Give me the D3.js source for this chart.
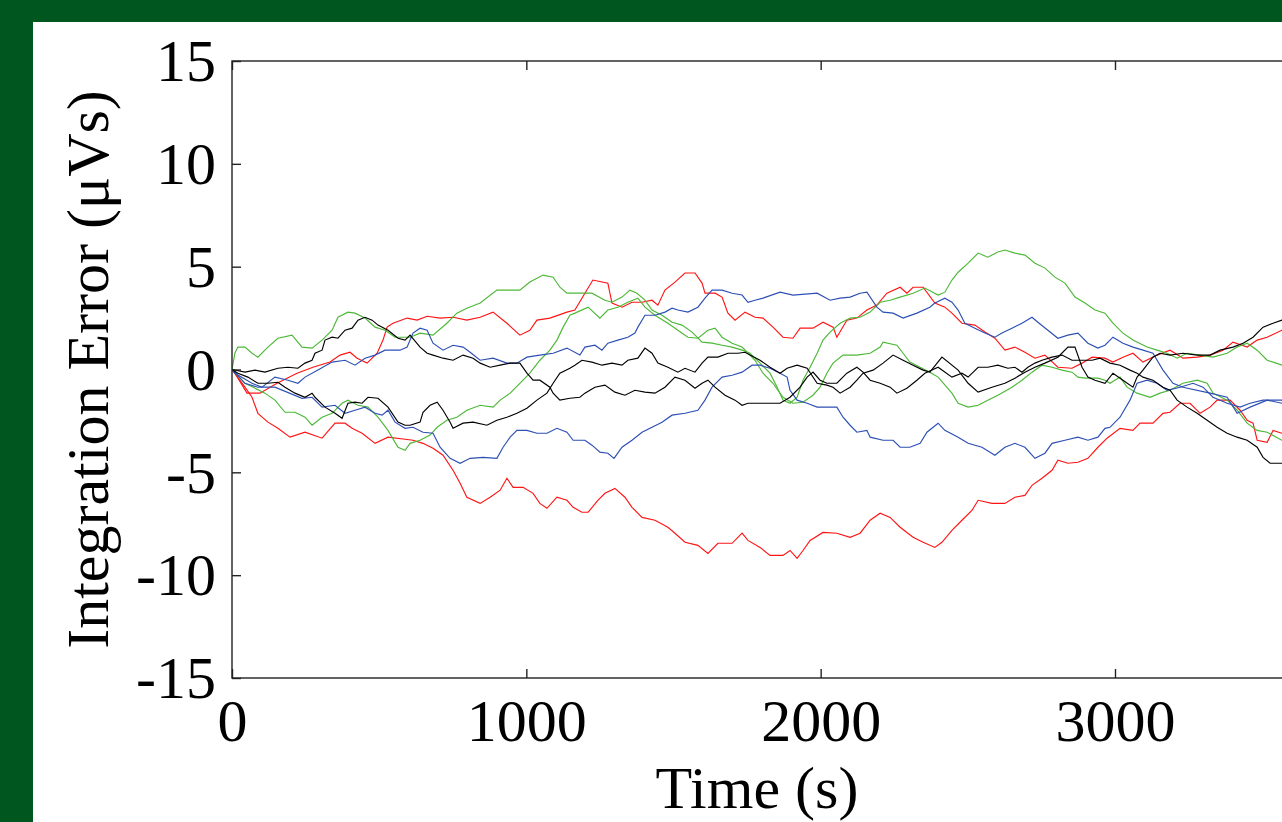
<!DOCTYPE html>
<html>
<head>
<meta charset="utf-8">
<script src="https://cdn.jsdelivr.net/npm/d3@7"></script>
<style>
  html, body { margin: 0; padding: 0; background: #00561f; overflow: hidden; }
  svg { display: block; }
</style>
</head>
<body>
<svg id="chart" width="1282" height="822"></svg>
<script>
// Integration error of eight runs over one hour, [time (s), error (µVs)]
const redLower = [[0,0],[44,-0.86],[68,-1.35],[88,-2.13],[122,-2.56],[156,-2.86],[197,-3.29],[248,-3.05],[306,-3.34],[350,-2.61],[384,-2.61],[408,-2.86],[442,-3.10],[486,-3.59],[530,-3.29],[588,-3.39],[615,-3.44],[649,-3.59],[683,-3.83],[717,-4.17],[751,-4.90],[775,-5.53],[798,-6.21],[843,-6.51],[877,-6.21],[911,-5.87],[934,-5.29],[955,-5.73],[989,-5.73],[1023,-6.02],[1046,-6.51],[1070,-6.75],[1104,-6.21],[1138,-6.36],[1159,-6.70],[1189,-6.94],[1210,-6.94],[1243,-6.36],[1267,-6.02],[1301,-5.78],[1335,-6.21],[1359,-6.70],[1393,-7.19],[1437,-7.33],[1481,-7.67],[1505,-7.96],[1539,-8.40],[1583,-8.55],[1617,-8.94],[1651,-8.45],[1699,-8.45],[1733,-7.96],[1753,-8.31],[1794,-8.65],[1828,-9.04],[1872,-9.04],[1896,-8.80],[1920,-9.18],[1940,-8.80],[1964,-8.31],[2008,-7.92],[2055,-7.96],[2100,-8.16],[2134,-7.96],[2168,-7.33],[2202,-6.99],[2236,-7.19],[2270,-7.67],[2314,-8.16],[2348,-8.40],[2388,-8.65],[2412,-8.40],[2446,-7.82],[2480,-7.33],[2514,-6.85],[2535,-6.36],[2582,-6.51],[2626,-6.51],[2660,-6.21],[2694,-6.12],[2718,-5.63],[2752,-5.29],[2786,-4.90],[2806,-4.41],[2840,-4.56],[2874,-4.51],[2908,-4.32],[2942,-3.78],[2973,-3.34],[3017,-2.86],[3061,-2.96],[3085,-2.61],[3129,-2.61],[3163,-2.13],[3187,-2.08],[3221,-1.64],[3255,-1.64],[3289,-2.13],[3323,-1.83],[3347,-1.49],[3391,-1.49],[3425,-1.98],[3449,-2.47],[3469,-2.61],[3483,-3.44],[3517,-3.54],[3537,-2.96],[3567,-3.10],[3600,-3.20]];

const redUpper = [[0,0],[10,-0.18],[51,-1.15],[95,-1.15],[153,-0.67],[221,-0.18],[275,0.11],[333,0.36],[367,0.70],[401,0.84],[425,0.55],[459,0.31],[493,0.79],[513,1.43],[527,2.06],[547,2.25],[595,2.50],[629,2.40],[663,2.59],[707,2.50],[751,2.54],[798,2.40],[843,2.54],[887,2.79],[934,2.25],[978,1.67],[1012,1.91],[1036,2.40],[1080,2.50],[1138,2.79],[1165,2.89],[1199,3.71],[1226,4.35],[1277,4.20],[1291,3.23],[1325,3.03],[1359,3.27],[1393,3.27],[1427,3.37],[1447,3.13],[1471,3.86],[1505,4.25],[1539,4.69],[1573,4.69],[1597,4.20],[1607,3.71],[1641,3.71],[1665,3.52],[1685,2.74],[1709,2.40],[1743,2.79],[1777,2.54],[1804,2.50],[1838,2.06],[1872,1.57],[1906,1.52],[1930,2.01],[1974,2.01],[2008,2.30],[2042,2.06],[2055,1.57],[2089,2.40],[2123,2.50],[2157,2.89],[2191,3.13],[2225,3.71],[2270,4.00],[2293,3.71],[2314,4.00],[2348,4.00],[2388,3.23],[2422,3.03],[2446,2.74],[2480,2.25],[2524,2.16],[2558,1.82],[2592,1.52],[2626,0.94],[2660,1.09],[2694,0.84],[2728,0.55],[2762,0.70],[2806,0.11],[2854,0.06],[2888,0.31],[2922,0.60],[2966,0.55],[2993,0.36],[3027,0.60],[3061,0.79],[3095,0.36],[3143,0.70],[3187,0.94],[3231,0.55],[3279,0.60],[3323,0.70],[3367,0.94],[3401,1.33],[3449,1.09],[3483,1.43],[3517,1.57],[3567,1.91],[3600,2.00]];

const blueLower = [[0,0],[44,-0.67],[88,-0.86],[146,-0.86],[238,-1.40],[272,-1.35],[306,-1.83],[350,-1.74],[384,-2.13],[418,-1.98],[452,-1.83],[486,-2.13],[510,-2.22],[530,-1.98],[554,-2.56],[588,-2.86],[615,-2.81],[649,-3.05],[683,-3.10],[707,-3.78],[741,-4.32],[775,-4.56],[809,-4.32],[853,-4.27],[900,-4.32],[921,-3.78],[945,-3.29],[968,-2.96],[1002,-2.96],[1036,-3.10],[1070,-3.10],[1104,-2.86],[1138,-3.05],[1159,-3.44],[1199,-3.44],[1223,-3.68],[1250,-4.02],[1277,-4.07],[1298,-4.32],[1325,-3.78],[1359,-3.44],[1393,-3.05],[1427,-2.81],[1461,-2.56],[1495,-2.22],[1539,-2.13],[1583,-1.98],[1607,-1.49],[1631,-0.86],[1665,-0.37],[1699,-0.28],[1733,-0.13],[1767,0.21],[1794,0.21],[1828,0.06],[1862,-0.18],[1886,-0.37],[1896,-1.01],[1920,-1.49],[1954,-1.64],[1988,-1.83],[2055,-1.83],[2076,-2.32],[2100,-2.71],[2123,-3.05],[2157,-2.96],[2168,-3.29],[2212,-3.44],[2246,-3.44],[2270,-3.78],[2303,-3.78],[2338,-3.59],[2361,-3.05],[2399,-2.61],[2422,-2.96],[2467,-3.29],[2501,-3.59],[2548,-3.78],[2592,-4.17],[2626,-3.78],[2660,-3.59],[2694,-3.78],[2728,-4.32],[2762,-4.07],[2786,-3.59],[2830,-3.44],[2874,-3.29],[2908,-3.44],[2942,-3.29],[2966,-2.86],[2983,-2.81],[3017,-2.32],[3051,-1.49],[3075,-0.67],[3109,-0.52],[3143,-0.67],[3177,-1.01],[3221,-0.86],[3265,-0.67],[3299,-0.86],[3333,-1.35],[3381,-1.64],[3425,-1.83],[3459,-1.64],[3503,-1.49],[3567,-1.49],[3600,-1.50]];

const blueUpper = [[0,0],[10,-0.18],[68,-0.67],[102,-0.86],[146,-0.37],[190,-0.52],[224,-0.67],[248,-0.37],[292,-0.03],[340,0.36],[384,0.45],[418,0.21],[452,0.55],[486,0.70],[520,0.94],[571,0.94],[595,1.09],[615,1.77],[639,2.01],[663,1.91],[683,1.28],[717,0.94],[751,1.18],[785,1.09],[809,0.84],[843,0.45],[887,0.55],[934,0.31],[968,0.31],[1002,0.60],[1046,0.70],[1091,0.79],[1138,1.04],[1182,0.70],[1199,1.09],[1233,1.18],[1257,0.94],[1277,1.28],[1311,1.43],[1345,1.57],[1369,1.77],[1379,2.06],[1403,2.64],[1437,2.64],[1471,2.79],[1495,2.98],[1515,2.89],[1549,2.79],[1583,3.03],[1607,3.47],[1631,3.86],[1665,3.86],[1699,3.71],[1733,3.62],[1753,3.27],[1777,3.37],[1804,3.47],[1862,3.76],[1906,3.62],[1988,3.71],[2032,3.37],[2066,3.47],[2100,3.52],[2134,3.71],[2157,3.76],[2191,3.03],[2212,2.79],[2246,2.74],[2280,2.50],[2327,2.74],[2371,3.03],[2388,3.23],[2422,3.47],[2446,3.27],[2467,2.89],[2490,2.25],[2524,2.01],[2558,1.77],[2592,1.57],[2616,1.77],[2650,2.01],[2684,2.25],[2718,2.54],[2738,2.30],[2772,1.91],[2806,1.52],[2840,1.67],[2874,1.77],[2908,1.28],[2942,1.04],[2966,1.18],[2993,1.57],[3027,1.28],[3061,1.09],[3095,0.94],[3129,0.79],[3163,-0.03],[3197,-0.67],[3231,-0.86],[3323,-1.15],[3381,-1.35],[3415,-2.13],[3459,-1.83],[3517,-1.49],[3567,-1.64],[3600,-1.60]];

const greenUpper = [[0,0],[10,0.80],[20,1.09],[44,1.09],[68,0.79],[88,0.60],[122,1.09],[156,1.52],[204,1.67],[238,1.09],[272,1.04],[306,1.43],[340,1.91],[360,2.54],[394,2.79],[418,2.74],[452,2.50],[486,2.06],[520,1.91],[554,1.57],[605,1.57],[639,1.77],[683,1.67],[730,2.25],[764,2.74],[798,2.98],[843,3.23],[900,3.86],[945,3.86],[978,3.86],[1012,4.25],[1057,4.59],[1091,4.49],[1114,4.00],[1138,3.71],[1165,3.71],[1223,3.71],[1267,3.37],[1291,3.27],[1325,3.52],[1352,3.86],[1376,3.71],[1403,3.37],[1427,2.89],[1461,2.64],[1495,2.30],[1529,2.16],[1563,1.82],[1597,1.33],[1631,1.28],[1665,1.18],[1699,1.09],[1733,0.94],[1760,0.79],[1794,0.31],[1828,-0.18],[1852,-0.86],[1872,-1.49],[1896,-1.64],[1920,-1.35],[1940,-0.52],[1964,0.11],[1988,0.79],[2008,1.43],[2032,1.82],[2066,2.25],[2100,2.50],[2134,2.54],[2168,2.79],[2202,3.27],[2236,3.37],[2270,3.52],[2314,3.71],[2354,3.96],[2399,3.62],[2422,3.76],[2446,4.35],[2467,4.73],[2501,5.17],[2535,5.66],[2568,5.46],[2602,5.71],[2626,5.81],[2660,5.66],[2694,5.56],[2728,5.17],[2762,4.93],[2796,4.49],[2830,4.20],[2864,3.52],[2898,3.23],[2932,2.89],[2966,2.74],[2993,2.25],[3027,1.77],[3061,1.43],[3109,1.09],[3143,0.94],[3177,0.79],[3211,0.55],[3245,0.79],[3289,0.70],[3333,0.60],[3381,0.79],[3415,1.09],[3449,1.28],[3483,0.94],[3517,0.45],[3567,0.21],[3600,0.10]];

const greenLower = [[0,0],[44,-0.67],[112,-1.15],[146,-1.49],[180,-2.08],[214,-2.08],[248,-2.32],[272,-2.71],[306,-2.32],[340,-2.13],[374,-1.64],[394,-1.49],[428,-1.74],[462,-1.83],[496,-2.32],[530,-2.96],[564,-3.78],[588,-3.93],[605,-3.59],[639,-3.44],[673,-3.19],[697,-2.81],[730,-2.47],[764,-2.32],[798,-1.98],[843,-1.74],[887,-1.83],[911,-1.49],[945,-1.15],[978,-0.67],[1012,-0.18],[1046,0.45],[1080,0.94],[1104,1.43],[1125,2.06],[1148,2.64],[1165,2.74],[1210,3.03],[1250,2.50],[1277,2.89],[1311,3.03],[1345,3.27],[1379,3.47],[1403,3.03],[1437,2.64],[1481,2.25],[1515,1.91],[1549,1.57],[1583,1.52],[1617,1.91],[1641,2.01],[1665,1.57],[1699,1.28],[1733,1.09],[1777,0.45],[1804,-0.18],[1838,-0.67],[1872,-1.35],[1906,-1.64],[1940,-1.59],[1974,-1.25],[1998,-0.86],[2021,-0.18],[2042,0.31],[2076,0.70],[2123,0.70],[2168,0.79],[2202,1.09],[2212,1.33],[2259,1.18],[2280,0.79],[2303,0.36],[2338,0.11],[2371,-0.13],[2399,-0.37],[2446,-1.15],[2467,-1.64],[2501,-1.83],[2535,-1.74],[2568,-1.49],[2602,-1.25],[2650,-0.86],[2684,-0.52],[2718,-0.13],[2752,0.21],[2786,0.11],[2820,-0.03],[2854,-0.13],[2874,-0.37],[2898,-0.42],[2942,-0.42],[2966,-0.52],[2983,-0.67],[3017,-0.37],[3041,-0.86],[3075,-1.15],[3119,-1.35],[3153,-1.15],[3187,-1.01],[3231,-0.67],[3279,-0.52],[3313,-0.67],[3333,-1.15],[3381,-1.49],[3415,-1.98],[3449,-2.61],[3483,-2.96],[3517,-3.05],[3567,-3.44],[3600,-3.50]];

const blackA = [[0,0],[44,-0.13],[78,-0.03],[112,-0.13],[156,0.06],[190,0.11],[224,0.06],[248,0.31],[272,0.45],[282,0.79],[306,0.94],[316,1.43],[340,1.57],[360,1.52],[384,1.91],[408,2.01],[428,2.40],[452,2.54],[476,2.40],[496,2.16],[530,1.91],[564,1.52],[588,1.43],[605,1.67],[639,1.09],[663,0.79],[683,0.70],[717,0.55],[751,0.45],[785,0.70],[819,0.55],[843,0.31],[877,0.11],[911,0.21],[945,0.31],[978,0.31],[1002,-0.18],[1023,-0.52],[1046,-0.52],[1080,-0.86],[1091,-1.15],[1114,-1.49],[1148,-1.40],[1182,-1.35],[1199,-1.15],[1233,-0.86],[1267,-0.76],[1301,-1.10],[1335,-1.25],[1369,-1.01],[1403,-1.10],[1437,-1.15],[1471,-0.86],[1505,-0.37],[1539,-0.52],[1573,-0.91],[1597,-0.67],[1617,-0.52],[1641,-0.86],[1675,-1.25],[1709,-1.49],[1733,-1.74],[1753,-1.64],[1794,-1.64],[1828,-1.64],[1862,-1.64],[1896,-1.35],[1930,-0.86],[1954,-0.37],[1974,-0.13],[1998,-0.52],[2021,-0.67],[2055,-0.67],[2089,-0.18],[2123,0.11],[2144,-0.13],[2168,-0.52],[2202,-0.67],[2236,-0.86],[2259,-1.15],[2293,-0.91],[2327,-0.52],[2354,-0.18],[2399,0.11],[2446,-0.37],[2480,-0.18],[2501,-0.37],[2535,0.11],[2568,0.11],[2602,0.21],[2636,0.06],[2660,0.11],[2684,-0.13],[2704,0.11],[2728,0.31],[2752,0.45],[2786,0.60],[2820,0.70],[2854,0.45],[2888,0.45],[2922,0.45],[2949,0.55],[2983,0.31],[3017,0.21],[3051,-0.03],[3075,-0.18],[3095,-0.37],[3129,-0.52],[3163,-0.86],[3187,-1.01],[3211,-1.49],[3245,-1.83],[3279,-2.13],[3313,-2.47],[3347,-2.81],[3381,-3.10],[3415,-3.29],[3449,-3.44],[3483,-3.78],[3503,-4.27],[3527,-4.56],[3567,-4.56],[3600,-4.60]];

const blackB = [[0,0],[20,-0.18],[54,-0.37],[88,-0.67],[122,-0.67],[156,-0.62],[180,-0.86],[214,-1.15],[248,-1.35],[272,-1.15],[282,-1.35],[316,-1.83],[350,-2.13],[374,-2.37],[394,-1.64],[418,-1.59],[442,-1.64],[462,-1.35],[496,-1.40],[530,-1.83],[564,-2.56],[588,-2.71],[605,-2.71],[639,-2.56],[649,-2.08],[673,-1.74],[697,-1.59],[717,-1.98],[741,-2.56],[751,-2.86],[785,-2.61],[819,-2.56],[866,-2.71],[900,-2.47],[934,-2.32],[968,-2.13],[1002,-1.88],[1036,-1.49],[1070,-1.15],[1091,-0.67],[1114,-0.18],[1148,0.06],[1165,0.21],[1189,0.45],[1223,0.36],[1257,0.21],[1291,0.31],[1325,0.21],[1345,0.45],[1379,0.55],[1403,1.04],[1427,0.79],[1447,0.31],[1481,0.11],[1515,-0.13],[1539,0.06],[1573,-0.13],[1597,0.31],[1617,0.60],[1651,0.60],[1685,0.79],[1719,0.79],[1743,0.84],[1760,0.70],[1794,0.45],[1828,0.11],[1862,-0.18],[1886,0.06],[1920,0.21],[1954,0.06],[1988,-0.67],[2021,-0.76],[2042,-0.86],[2066,-1.15],[2100,-0.86],[2123,-0.52],[2144,-0.18],[2178,-0.03],[2212,0.31],[2246,0.70],[2280,0.45],[2314,0.21],[2348,-0.03],[2371,-0.13],[2412,0.60],[2467,-0.03],[2501,-0.67],[2535,-1.10],[2582,-0.86],[2626,-0.67],[2660,-0.42],[2694,-0.13],[2728,0.11],[2762,0.31],[2806,0.60],[2840,1.09],[2864,1.09],[2888,0.11],[2908,-0.37],[2932,-0.52],[2966,-0.67],[2993,-0.18],[3027,-0.52],[3061,-0.86],[3075,-0.37],[3095,-0.03],[3129,0.60],[3153,0.79],[3187,0.70],[3231,0.79],[3279,0.70],[3323,0.70],[3357,0.94],[3401,1.09],[3435,1.28],[3469,1.57],[3503,2.06],[3537,2.25],[3567,2.40],[3600,2.50]];

const xTicks = [0, 1000, 2000, 3000];
const yTicks = [-15, -10, -5, 0, 5, 10, 15];
const xTitle = "Time (s)";
const yTitle = "Integration Error (\u03BCVs)";

const runs = [
  { values: redLower,   color: "#ff1414" },
  { values: redUpper,   color: "#ff1414" },
  { values: greenLower, color: "#4cb836" },
  { values: greenUpper, color: "#4cb836" },
  { values: blueLower,  color: "#2d4fb4" },
  { values: blueUpper,  color: "#2d4fb4" },
  { values: blackA,     color: "#000000" },
  { values: blackB,     color: "#000000" }
];

const svg = d3.select("#chart");
const W = 1282, H = 822;
const plot = { left: 232, right: 1291.6, top: 61, bottom: 678 };
const font = "'Liberation Serif', 'Times New Roman', serif";

// page background and white figure panel
svg.append("rect").attr("width", W).attr("height", H).attr("fill", "#00561f");
svg.append("rect").attr("x", 33).attr("y", 22).attr("width", W).attr("height", H).attr("fill", "#ffffff");

const x = d3.scaleLinear().domain([0, 3600]).range([plot.left, plot.right]);
const y = d3.scaleLinear().domain([-15, 15]).range([plot.bottom, plot.top]);

svg.append("clipPath").attr("id", "plotClip")
  .append("rect")
  .attr("x", plot.left).attr("y", plot.top)
  .attr("width", plot.right - plot.left).attr("height", plot.bottom - plot.top);

// traces
const line = d3.line().x(d => x(d[0])).y(d => y(d[1]));
svg.append("g").attr("clip-path", "url(#plotClip)")
  .selectAll("path").data(runs).join("path")
  .attr("d", d => line(d.values))
  .attr("fill", "none")
  .attr("stroke", d => d.color)
  .attr("stroke-width", 1.15)
  .attr("stroke-linejoin", "miter");

// axes with inward ticks on all four sides; labels use a plain hyphen for negatives
const axisColor = "#222";
const plainNumber = d => String(d);
function styleAxis(g) {
  g.select(".domain").remove();
  g.selectAll(".tick line").attr("stroke", axisColor).attr("stroke-width", 1.4);
  g.selectAll(".tick text")
    .attr("fill", "#000")
    .style("font-family", font)
    .style("font-size", "60px");
}

svg.append("g").attr("transform", `translate(0,${plot.bottom})`)
  .call(d3.axisBottom(x).tickValues(xTicks).tickSize(-9).tickPadding(20).tickFormat(plainNumber))
  .call(styleAxis);

svg.append("g").attr("transform", `translate(0,${plot.top})`)
  .call(d3.axisTop(x).tickValues(xTicks).tickSize(-9).tickFormat(""))
  .call(styleAxis);

svg.append("g").attr("transform", `translate(${plot.left},0)`)
  .call(d3.axisLeft(y).tickValues(yTicks).tickSize(-9).tickPadding(16).tickFormat(plainNumber))
  .call(styleAxis)
  .selectAll(".tick text").attr("dy", "0.33em");

svg.append("g").attr("transform", `translate(${plot.right},0)`)
  .call(d3.axisRight(y).tickValues(yTicks).tickSize(-9).tickFormat(""))
  .call(styleAxis);

// plot frame
svg.append("rect")
  .attr("x", plot.left).attr("y", plot.top)
  .attr("width", plot.right - plot.left).attr("height", plot.bottom - plot.top)
  .attr("fill", "none").attr("stroke", axisColor).attr("stroke-width", 1.4);

// axis titles
svg.append("text")
  .attr("x", 757).attr("y", 808)
  .attr("text-anchor", "middle")
  .style("font-family", font).style("font-size", "60px")
  .text(xTitle);

svg.append("text")
  .attr("transform", `translate(108,${(plot.top + plot.bottom) / 2}) rotate(-90)`)
  .attr("text-anchor", "middle")
  .style("font-family", font).style("font-size", "60px")
  .text(yTitle);
</script>
</body>
</html>
